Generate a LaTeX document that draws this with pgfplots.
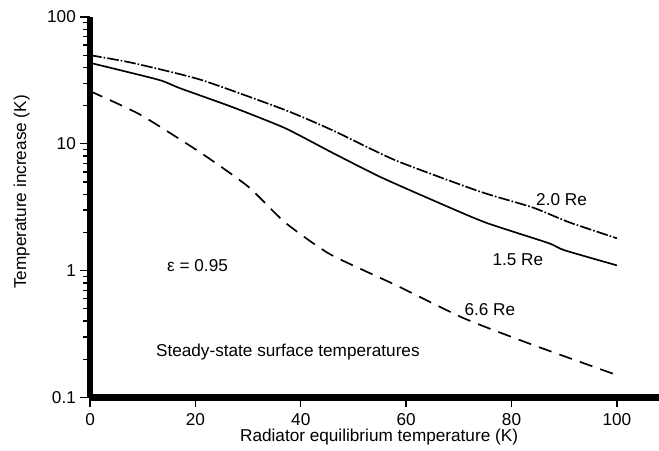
\documentclass[border=0pt]{standalone}
\usepackage{fontspec}
\setmainfont{Liberation Sans}
\usepackage{pgfplots}
\pgfplotsset{compat=1.18}

\begin{document}
\begin{tikzpicture}
\begin{axis}[
  name=ax,
  scale only axis,
  width=341pt, height=228pt,
  xmin=0, xmax=108,
  ymode=log, ymin=0.1, ymax=100,
  axis x line=bottom, axis y line=left,
  axis line style={line width=4pt, -},
  xtick={0,20,...,100},
  ytick={0.1,1,10,100},
  yticklabels={0.1,1,10,100},
  tick align=outside,
  major tick length=6pt, minor tick length=4pt,
  tick style={black, line width=0.8pt},
  font=\fontsize{10.3}{12}\selectfont,
  /pgf/number format/assume math mode=true,
  xlabel={Radiator equilibrium temperature (K)},
  ylabel={Temperature increase (K)},
  xlabel style={at={(rel axis cs:0.508,0)}, anchor=center, yshift=-24pt},
  ylabel style={at={(rel axis cs:0,0.54)}, anchor=center, yshift=41pt},
  yticklabel style={anchor=east, xshift=1pt},
  xticklabel style={anchor=north},
  clip=false,
]
% 2.0 Re
\addplot[black, line width=1pt, smooth, tension=0.35, dash pattern=on 7pt off 1.2pt on 1pt off 1.2pt] coordinates {
  (0,50) (8,43.5) (21,32) (37,18.5) (46,12.8) (58,7.4) (74,4.2) (84,3.15) (91,2.4) (100,1.8)
};
% 1.5 Re
\addplot[black, line width=1pt, smooth, tension=0.35] coordinates {
  (0,43.5) (13,32) (17,27.5) (27,19.5) (37,13.3) (46,8.5) (55,5.5) (65,3.6) (75,2.4) (87,1.65) (90,1.45) (100,1.1)
};
% 6.6 Re
\addplot[black, line width=1pt, smooth, tension=0.35, dash pattern=on 8pt off 5pt] coordinates {
  (0,26) (9.5,17) (21,8.5) (30,4.6) (37,2.4) (45.5,1.35) (58,0.77) (71,0.42) (84,0.26) (100,0.15)
};
\node at (axis cs:89.5,3.6) {2.0 Re};
\node at (axis cs:81.2,1.23) {1.5 Re};
\node at (axis cs:75.9,0.495) {6.6 Re};
\node at (axis cs:20.4,1.10) {ε = 0.95};
\node[anchor=west] at (axis cs:11.4,0.227) {Steady-state surface temperatures};
\end{axis}
\pgfresetboundingbox
\path[use as bounding box] ([xshift=-54pt,yshift=-31.8pt]ax.south west) rectangle ([yshift=10.2pt]ax.north east);
\end{tikzpicture}
\end{document}
